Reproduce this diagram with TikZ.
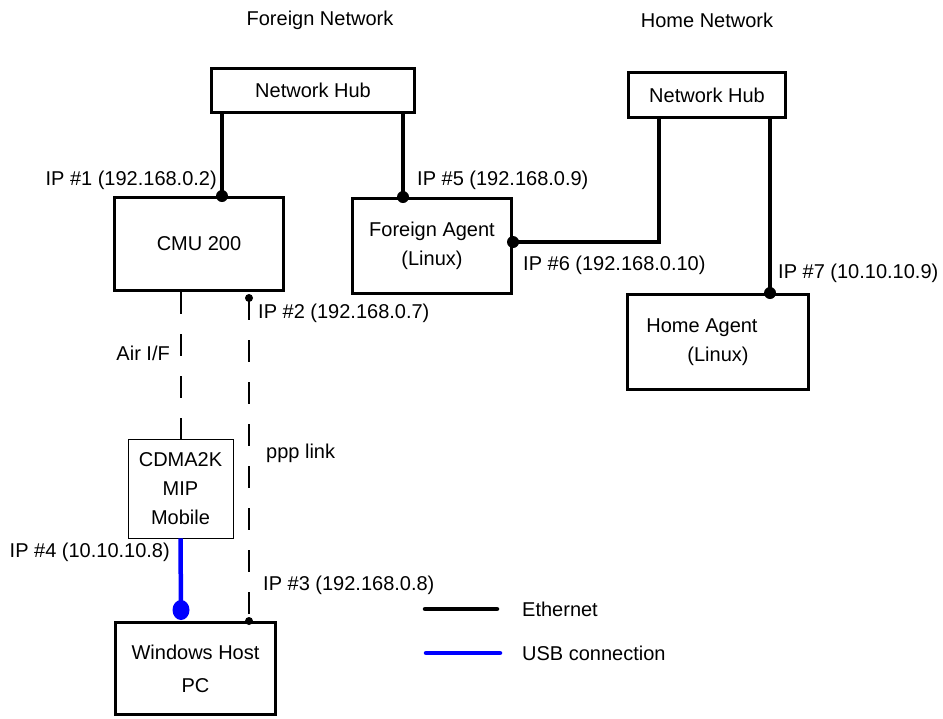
\documentclass[tikz,border=0pt]{standalone}
\usepackage{fontspec}
\setmainfont{Liberation Sans}
\usetikzlibrary{positioning}
\usetikzlibrary{calc}

\begin{document}
\begin{tikzpicture}[
    x=1pt, y=-1pt,
    every node/.style={font=\fontsize{20}{29}\selectfont},
    box/.style={draw, line width=3pt, inner sep=0pt, align=center},
    thinbox/.style={draw, line width=0.8pt, inner sep=0pt, align=center},
    lbl/.style={inner sep=0pt},
    ether/.style={line width=4.5pt},
    usb/.style={line width=4.5pt, blue},
    ppp/.style={line width=2pt, dash pattern=on 22pt off 20pt}
]
\useasboundingbox (0,0) rectangle (943,718);

\node (fnet) at (320,20) {Foreign Network};
\node (hnet) at (707,20) {Home Network};

\node[box, minimum width=203pt, minimum height=44pt] (hubf) at (313,90) {Network Hub};
\node[box, minimum width=157pt, minimum height=45pt] (hubh) at (707,95) {Network Hub};
\node[box, minimum width=169pt, minimum height=93pt] (cmu) at (199,244) {CMU 200};
\node[box, minimum width=159pt, minimum height=95pt] (fa) at (432,246) {Foreign Agent\\(Linux)};
\node[box, minimum width=181pt, minimum height=95pt] (ha) at (718,342) {\hspace*{-1.6em}Home Agent\\(Linux)};
\node[thinbox, minimum width=105pt, minimum height=99pt] (cdma) at (180.5,488.5) {CDMA2K\\MIP\\Mobile};
\node[box, minimum width=160pt, minimum height=92pt] (win) at (195.5,668.5) {Windows Host\\[4pt]PC};

% attachment points
\coordinate (ip1) at (222,196);
\coordinate (ip5) at (403,197);
\coordinate (bend) at (659,242);
\coordinate (ip6) at (fa.east |- bend);
\coordinate (ip7) at (770,293);
\coordinate (ip2) at (249,298);
\coordinate (ip3) at (win.north -| ip2);
\coordinate (ip4) at (181,610);

% ethernet
\draw[ether] (hubf.south -| ip1) -- (ip1);
\draw[ether] (hubf.south -| ip5) -- (ip5);
\draw[ether] (hubh.south -| bend) -- (bend) -- (ip6);
\draw[ether] (hubh.south -| ip7) -- (ip7);
\fill (ip1) circle (6);
\fill (ip5) circle (6);
\fill (ip6) circle (6);
\fill (ip7) circle (6);

% air and ppp
\draw[ppp] (cmu.south -| cdma.north) -- (cdma.north);
\draw[ppp] (ip2) -- (ip3);
\fill (ip2) circle (4);
\fill (ip3) circle (4);

% usb
\draw[usb] (cdma.south) -- (ip4);
\fill[blue] (ip4) ellipse (8.5 and 10);

\node[lbl, anchor=east] (l1) at (217,180) {IP \#1 (192.168.0.2)};
\node[lbl, anchor=west] (l5) at (417,180) {IP \#5 (192.168.0.9)};
\node[lbl, anchor=west] (l6) at (523,265) {IP \#6 (192.168.0.10)};
\node[lbl, anchor=west] (l7) at (778,273) {IP \#7 (10.10.10.9)};
\node[lbl, anchor=west] (l2) at (258,313) {IP \#2 (192.168.0.7)};
\node[lbl, anchor=east] (air) at (170,353) {Air I/F};
\node[lbl, anchor=west] (pppl) at (266,453) {ppp link};
\node[lbl, anchor=east] (l4) at (170,552) {IP \#4 (10.10.10.8)};
\node[lbl, anchor=west] (l3) at (263,585) {IP \#3 (192.168.0.8)};

% legend
\coordinate (eth1) at (425,609);
\coordinate (eth2) at (497,609);
\coordinate (usb1) at (426,653);
\coordinate (usb2) at (500,653);
\draw[ether, line cap=round] (eth1) -- (eth2);
\draw[usb, line cap=round] (usb1) -- (usb2);
\node[lbl, right=25pt of eth2] (ethl) {Ethernet};
\node[lbl, right=22pt of usb2] (usbl) {USB connection};
\end{tikzpicture}
\end{document}
